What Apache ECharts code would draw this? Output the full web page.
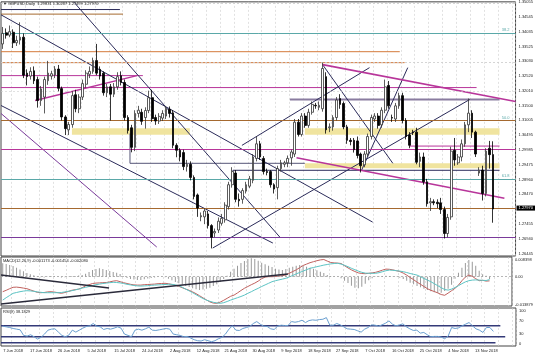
<!DOCTYPE html>
<html><head><meta charset="utf-8">
<script src="https://cdn.jsdelivr.net/npm/echarts@6/dist/echarts.min.js"></script>
<style>html,body{margin:0;padding:0;background:#fff}#c{width:536px;height:357px}</style>
</head><body><div id="c"></div>
<script>
// ---- DATA ----
// daily candles [open, close, low, high], first bar = 4 Jun 2018 (Sunday bars included, Saturdays skipped)
const ohlc = [
[1.3362,1.3398,1.3345,1.3420],[1.3400,1.3392,1.3380,1.3415],[1.3392,1.3404,1.3385,1.3425],[1.3402,1.3366,1.3348,1.3412],
[1.3366,1.3374,1.3355,1.3390],[1.3375,1.3385,1.3360,1.3436],[1.3385,1.3255,1.3245,1.3398],[1.3262,1.3250,1.3220,1.3275],
[1.3252,1.3268,1.3240,1.3282],[1.3270,1.3236,1.3225,1.3285],[1.3240,1.3168,1.3144,1.3250],[1.3168,1.3208,1.3150,1.3218],
[1.3180,1.3240,1.3124,1.3250],[1.3236,1.3262,1.3222,1.3304],[1.3252,1.3260,1.3240,1.3270],[1.3256,1.3276,1.3245,1.3286],
[1.3276,1.3210,1.3200,1.3290],[1.3209,1.3112,1.3100,1.3216],[1.3112,1.3072,1.3050,1.3118],[1.3068,1.3086,1.3050,1.3095],
[1.3086,1.3185,1.3075,1.3200],[1.3188,1.3140,1.3128,1.3205],[1.3140,1.3180,1.3125,1.3190],[1.3180,1.3226,1.3170,1.3240],
[1.3224,1.3262,1.3212,1.3272],[1.3258,1.3268,1.3245,1.3285],[1.3268,1.3305,1.3260,1.3315],[1.3305,1.3262,1.3255,1.3362],
[1.3275,1.3252,1.3240,1.3285],[1.3262,1.3195,1.3185,1.3268],[1.3195,1.3215,1.3180,1.3225],[1.3215,1.3190,1.3100,1.3225],
[1.3190,1.3215,1.3180,1.3228],[1.3215,1.3250,1.3205,1.3265],[1.3253,1.3230,1.3220,1.3268],[1.3230,1.3110,1.3100,1.3240],
[1.3110,1.3066,1.3055,1.3118],[1.3075,1.3008,1.2991,1.3085],[1.3008,1.3124,1.2995,1.3135],[1.3124,1.3135,1.3110,1.3150],
[1.3128,1.3097,1.3085,1.3140],[1.3110,1.3134,1.3072,1.3145],[1.3134,1.3178,1.3125,1.3202],[1.3178,1.3106,1.3095,1.3205],
[1.3110,1.3098,1.3085,1.3120],[1.3098,1.3114,1.3088,1.3125],[1.3108,1.3124,1.3098,1.3135],[1.3115,1.3141,1.3105,1.3150],
[1.3138,1.3124,1.3110,1.3148],[1.3126,1.3015,1.3005,1.3135],[1.3015,1.2998,1.2974,1.3022],[1.2998,1.2975,1.2960,1.3005],
[1.2990,1.2942,1.2930,1.3000],[1.2942,1.2950,1.2925,1.2965],[1.2950,1.2905,1.2895,1.2960],[1.2905,1.2840,1.2830,1.2912],
[1.2845,1.2800,1.2770,1.2850],[1.2770,1.2774,1.2755,1.2785],[1.2770,1.2790,1.2745,1.2800],[1.2780,1.2740,1.2730,1.2790],
[1.2740,1.2700,1.2662,1.2745],[1.2715,1.2720,1.2700,1.2730],[1.2725,1.2755,1.2715,1.2768],[1.2748,1.2765,1.2740,1.2780],
[1.2760,1.2810,1.2750,1.2820],[1.2805,1.2880,1.2795,1.2890],[1.2880,1.2925,1.2870,1.2940],[1.2920,1.2830,1.2820,1.2930],
[1.2830,1.2825,1.2805,1.2850],[1.2830,1.2860,1.2815,1.2868],[1.2858,1.2880,1.2850,1.2890],[1.2875,1.2900,1.2868,1.2910],
[1.2895,1.2975,1.2885,1.2985],[1.2970,1.3020,1.2960,1.3045],[1.3020,1.2975,1.2965,1.3030],[1.2970,1.2925,1.2915,1.2978],
[1.2925,1.2922,1.2912,1.2935],[1.2925,1.2880,1.2870,1.2930],[1.2880,1.2865,1.2850,1.2885],[1.2870,1.2935,1.2830,1.2945],
[1.2935,1.2955,1.2925,1.2965],[1.2950,1.2955,1.2940,1.2962],[1.2955,1.2970,1.2940,1.2980],[1.2972,1.2992,1.2945,1.3000],
[1.2985,1.3094,1.2975,1.3105],[1.3094,1.3052,1.3045,1.3105],[1.3052,1.3115,1.3045,1.3125],[1.3115,1.3083,1.3075,1.3125],
[1.3083,1.3128,1.3075,1.3140],[1.3128,1.3155,1.3120,1.3165],[1.3152,1.3150,1.3140,1.3160],[1.3145,1.3152,1.3135,1.3165],
[1.3140,1.3278,1.3130,1.3298],[1.3250,1.3068,1.3055,1.3265],[1.3075,1.3078,1.3060,1.3090],[1.3078,1.3110,1.3065,1.3118],
[1.3110,1.3170,1.3100,1.3180],[1.3175,1.3155,1.3140,1.3190],[1.3158,1.3078,1.3070,1.3165],[1.3078,1.3032,1.3020,1.3085],
[1.3032,1.3028,1.3015,1.3040],[1.3032,1.3000,1.2990,1.3040],[1.3030,1.2980,1.2970,1.3045],[1.2985,1.2945,1.2922,1.2990],
[1.2948,1.2985,1.2940,1.2995],[1.2985,1.3045,1.2975,1.3055],[1.3045,1.3110,1.3035,1.3120],[1.3105,1.3115,1.3095,1.3125],
[1.3115,1.3083,1.3072,1.3125],[1.3085,1.3135,1.3075,1.3145],[1.3135,1.3215,1.3125,1.3240],[1.3220,1.3150,1.3140,1.3235],
[1.3110,1.3108,1.3095,1.3120],[1.3105,1.3150,1.3095,1.3160],[1.3150,1.3185,1.3140,1.3195],[1.3185,1.3100,1.3090,1.3195],
[1.3100,1.3045,1.3035,1.3108],[1.3050,1.3015,1.3005,1.3060],[1.3060,1.3058,1.3050,1.3068],[1.3060,1.2957,1.2950,1.3075],
[1.2960,1.2975,1.2940,1.2990],[1.2975,1.2890,1.2880,1.2990],[1.2890,1.2815,1.2805,1.2900],[1.2818,1.2822,1.2790,1.2835],
[1.2822,1.2818,1.2810,1.2830],[1.2820,1.2815,1.2800,1.2830],[1.2818,1.2795,1.2780,1.2835],[1.2795,1.2713,1.2696,1.2805],
[1.2713,1.2768,1.2700,1.2780],[1.2770,1.2995,1.2760,1.3010],[1.2998,1.2965,1.2945,1.3040],[1.2955,1.2975,1.2948,1.2985],
[1.2975,1.3020,1.2960,1.3035],[1.3020,1.3085,1.3010,1.3095],[1.3085,1.3125,1.3060,1.3175],[1.3125,1.3060,1.3040,1.3135],
[1.3060,1.2985,1.2975,1.3065],[1.2920,1.2930,1.2910,1.2940],[1.2930,1.2850,1.2826,1.2945],[1.2850,1.2995,1.2840,1.3005],
[1.3005,1.2983,1.2935,1.3030],[1.29831,1.27970,1.27499,1.30287]
];
const macdHist = [
0.0067,0.0063,0.0058,0.0053,0.0045,0.0036,0.0027,0.0018,0.0012,0.0007,0.0002,-0.0003,-0.0004,-0.0002,0.0003,0.0004,
0.0002,-0.0004,-0.0003,0.0001,0.0003,0.0004,0.0006,0.0009,0.0015,0.0024,0.0033,0.0039,0.0042,0.0038,0.0033,0.0028,
0.0024,0.0020,0.0014,0.0004,-0.0006,-0.0012,-0.0014,-0.0016,-0.0017,-0.0013,-0.0009,-0.0006,-0.0004,-0.0002,-0.0001,-0.0003,
-0.0010,-0.0018,-0.0026,-0.0033,-0.0040,-0.0046,-0.0052,-0.0058,-0.0063,-0.0067,-0.0064,-0.0060,-0.0055,-0.0047,-0.0038,-0.0027,
-0.0012,0.0005,0.0025,0.0040,0.0055,0.0068,0.0078,0.0088,0.0092,0.0088,0.0080,0.0070,0.0062,0.0055,0.0048,0.0040,
0.0036,0.0033,0.0038,0.0045,0.0050,0.0055,0.0058,0.0055,0.0050,0.0045,0.0040,0.0032,0.0025,0.0018,0.0008,0.0004,
0.0002,0.0001,-0.0008,-0.0020,-0.0032,-0.0045,-0.0055,-0.0058,-0.0050,-0.0035,-0.0018,-0.0008,-0.0002,0.0002,0.0004,0.0005,
0.0003,0.0001,-0.0002,-0.0005,-0.0012,-0.0020,-0.0030,-0.0038,-0.0046,-0.0053,-0.0060,-0.0067,-0.0073,-0.0078,-0.0082,-0.0080,
-0.0072,-0.0060,-0.0040,-0.0010,0.0020,0.0045,0.0068,0.0083,0.0075,0.0055,0.0030,0.0012,0.0005,-0.001173
];
const macdMain = [
-0.0075,-0.0068,-0.0060,-0.0053,-0.0052,-0.0054,-0.0057,-0.0060,-0.0066,-0.0072,-0.0078,-0.0080,-0.0079,-0.0076,-0.0075,-0.0077,
-0.0080,-0.0083,-0.0079,-0.0074,-0.0068,-0.0065,-0.0062,-0.0055,-0.0046,-0.0040,-0.0034,-0.0032,-0.0031,-0.0030,-0.0029,-0.0026,
-0.0022,-0.0020,-0.0025,-0.0030,-0.0034,-0.0038,-0.0041,-0.0042,-0.0042,-0.0040,-0.0039,-0.0038,-0.0037,-0.0035,-0.0034,-0.0033,
-0.0035,-0.0039,-0.0043,-0.0048,-0.0055,-0.0062,-0.0068,-0.0076,-0.0085,-0.0095,-0.0106,-0.0116,-0.0126,-0.0132,-0.0133,-0.0127,
-0.0118,-0.0108,-0.0098,-0.0092,-0.0081,-0.0069,-0.0058,-0.0049,-0.0040,-0.0032,-0.0022,-0.0010,-0.0002,0.0000,0.0000,0.0001,
0.0003,0.0005,0.0009,0.0017,0.0026,0.0034,0.0045,0.0056,0.0063,0.0070,0.0075,0.0080,0.0084,0.0086,0.0078,0.0071,
0.0069,0.0068,0.0066,0.0055,0.0044,0.0034,0.0026,0.0019,0.0016,0.0015,0.0017,0.0019,0.0022,0.0027,0.0033,0.0038,
0.0037,0.0034,0.0030,0.0026,0.0018,0.0008,-0.0004,-0.0015,-0.0027,-0.0038,-0.0049,-0.0060,-0.0068,-0.0074,-0.0081,-0.0089,
-0.0093,-0.0082,-0.0070,-0.0058,-0.0042,-0.0020,-0.0002,0.0008,0.0002,-0.0010,-0.0020,-0.0018,-0.0022,-0.002080
];
const macdSignal = [
-0.0117,-0.0105,-0.0094,-0.0083,-0.0079,-0.0075,-0.0072,-0.0070,-0.0071,-0.0073,-0.0076,-0.0078,-0.0080,-0.0080,-0.0080,-0.0080,
-0.0080,-0.0079,-0.0076,-0.0073,-0.0070,-0.0066,-0.0062,-0.0057,-0.0053,-0.0049,-0.0044,-0.0040,-0.0037,-0.0034,-0.0032,-0.0030,
-0.0028,-0.0029,-0.0031,-0.0034,-0.0038,-0.0041,-0.0044,-0.0046,-0.0047,-0.0046,-0.0045,-0.0043,-0.0042,-0.0041,-0.0040,-0.0039,
-0.0038,-0.0038,-0.0041,-0.0045,-0.0053,-0.0062,-0.0071,-0.0080,-0.0090,-0.0100,-0.0109,-0.0117,-0.0123,-0.0128,-0.0131,-0.0133,
-0.0130,-0.0124,-0.0117,-0.0111,-0.0105,-0.0099,-0.0092,-0.0083,-0.0075,-0.0066,-0.0058,-0.0049,-0.0041,-0.0033,-0.0025,-0.0020,
-0.0016,-0.0012,-0.0008,-0.0001,0.0006,0.0014,0.0021,0.0028,0.0035,0.0042,0.0046,0.0050,0.0054,0.0058,0.0061,0.0064,
0.0066,0.0067,0.0063,0.0057,0.0050,0.0042,0.0035,0.0028,0.0022,0.0018,0.0017,0.0017,0.0017,0.0020,0.0025,0.0030,
0.0033,0.0032,0.0030,0.0028,0.0025,0.0021,0.0016,0.0012,0.0008,0.0000,-0.0009,-0.0017,-0.0025,-0.0035,-0.0045,-0.0055,
-0.0064,-0.0067,-0.0062,-0.0054,-0.0045,-0.0035,-0.0026,-0.0020,-0.0017,-0.0016,-0.0017,-0.0018,-0.0019,-0.001454
];
const rsi = [
54,52,50,47,45,43,26,24,28,22,15,20,30,42,45,46,36,26,22,27,42,36,42,48,53,55,62,54,52,44,47,45,
48,52,48,30,26,22,42,45,42,46,51,42,41,43,45,47,45,30,28,26,22,23,18,13,10,9,13,10,7,10,
16,20,30,45,55,42,41,47,50,53,62,68,60,54,53,46,44,54,57,56,56,68,66,68,72,65,71,73,72,74,
75,80,57,57,62,58,52,46,45,44,40,36,45,50,58,57,54,58,63,70,60,55,58,61,52,46,41,42,33,35,
28,22,23,23,21,16,24,50,47,49,55,60,65,55,46,42,35,50,50,38.1829
];
const priceTicks = [1.35055,1.34545,1.34035,1.33525,1.33030,1.32520,1.32010,1.31500,1.31005,1.30495,1.29985,1.29475,1.28960,1.28470,1.27455,1.26940,1.26445];
const macdTicks = [0.008398, 0, -0.013879];
const rsiTicks = [100, 70, 30, 0];
const xTickLabels = ['7 Jun 2018','17 Jun 2018','26 Jun 2018','5 Jul 2018','15 Jul 2018','24 Jul 2018','2 Aug 2018','12 Aug 2018','21 Aug 2018','30 Aug 2018','9 Sep 2018','18 Sep 2018','27 Sep 2018','7 Oct 2018','16 Oct 2018','25 Oct 2018','4 Nov 2018','13 Nov 2018'];
// drawn objects, in (bar index, price) coordinates
const fullLevels = [1.34326, 1.31460, 1.31222, 1.30403, 1.28612, 1.27690, 1.27281, 1.26769];
const fibLevelText = ['38.2', '50.0', '', '', '61.8', '', '', ''];
const partialLevels = [ // [price, fromBar, toBar]
  [1.34797,-0.5,33.7],[1.34640,-0.5,34.6],[1.33354,-0.5,114.2],[1.32979,-0.5,115.6],[1.32535,-0.5,40.3],
  [1.32126,-0.5,136.3],[1.31716,82.6,142.9],[1.30123,117.0,142.9],[1.29533,36.6,86.9],[1.29294,66.2,142.9]
];
const zones = [ // [priceTop, priceBottom, fromBar, toBar]
  [1.30737,1.30512,19.9,53.8],[1.30737,1.30512,86.9,142.9],[1.29533,1.29362,86.9,142.9]
];
const trendLines = [ // [bar1, price1, bar2, price2]
  [-0.5,1.34616,106.4,1.27520],[20.4,1.35060,79.7,1.27008],[-0.5,1.31512,77.7,1.26803],[-0.5,1.31239,44.3,1.26667],
  [9.3,1.31682,38.6,1.32535],[68.8,1.30147,105.5,1.32808],[60.4,1.26633,134.3,1.31716],[92.0,1.32911,112.2,1.29533],
  [103.2,1.29294,116.5,1.32808],[92.0,1.32911,147.5,1.31648],[84.5,1.29721,144.3,1.28339],
  [36.6,1.30556,36.6,1.29533],[66.2,1.29294,66.2,1.28885]
];
const macdTrendLines = [[-0.5,0.00085,30.8,-0.00565],[-0.5,-0.01365,82.6,0.00135]];
const rsiLevels = [[55.5,-0.5,143.0],[22.1,-0.5,144.4],[3.9,-0.5,141.6]];

// ---- STYLES ----
const NAVY='#2b2b5a', TEAL='#5aa8a8', ORANGE='#d47a3c', BROWN='#a5692f', MAG='#b8359a', PURP='#7a3a9a', GPURP='#8a7ca0', GRID='#cdcdcd';
const fullLevelColors = [TEAL, TEAL, BROWN, MAG, TEAL, MAG, MAG, PURP];
const partialColors = [NAVY, BROWN, ORANGE, ORANGE, MAG, MAG, GPURP, MAG, '#555577', NAVY];
const partialWidths = [1,1,1,1,1,1,2,1,1,1];
const trendColors = [NAVY,NAVY,NAVY,PURP,MAG,NAVY,NAVY,NAVY,NAVY,MAG,MAG,'#555577',NAVY];
const trendWidths = [1,1,1,1,1.5,1,1,1,1,1.6,1.6,1,1];
const FONT = 'Liberation Sans';
const FS = 4;

// ---- categories (trading days incl. Sundays) ----
const MON = ['Jan','Feb','Mar','Apr','May','Jun','Jul','Aug','Sep','Oct','Nov','Dec'];
const NBARS = ohlc.length + 6;
const categories = [];
let t = Date.UTC(2018, 5, 4);
while (categories.length < NBARS) {
  const d = new Date(t);
  if (d.getUTCDay() !== 6) categories.push(d.getUTCDate() + ' ' + MON[d.getUTCMonth()] + ' ' + d.getUTCFullYear());
  t += 86400000;
}
const last = ohlc[ohlc.length - 1];
const fmt5 = v => v.toFixed(5);
const header = '\u25BC GBPUSD,Daily  ' + fmt5(last[0]) + ' ' + fmt5(last[3]) + ' ' + fmt5(last[2]) + ' ' + fmt5(last[1]);
const macdTitle = 'MACD(12,26,9) ' + macdHist[macdHist.length-1].toFixed(6) + ' ' + macdSignal[macdSignal.length-1].toFixed(6) + ' ' + macdMain[macdMain.length-1].toFixed(6);
const rsiTitle = 'RSI(9) ' + rsi[rsi.length-1].toFixed(4);

// ---- axes ----
const grids = [
  {left:1, right:20, top:1, height:255},
  {left:1, right:20, top:257, height:49},
  {left:1, right:20, top:308, height:38}
].map(g => Object.assign(g, {show:true, borderColor:'#444', borderWidth:1, backgroundColor:'#fff'}));

const xAxes = [];
for (let g = 0; g < 3; g++) {
  xAxes.push({
    type:'category', gridIndex:g, data:categories, boundaryGap:true,
    axisLine:{show:false}, axisTick:{show:false},
    axisLabel: g === 2 ? {show:true, interval:(i, v) => xTickLabels.includes(v), fontSize:FS, fontFamily:FONT, color:'#222', margin:3} : {show:false},
    splitLine:{show:true, interval:(i) => i >= 3 && (i - 3) % 4 === 0, lineStyle:{color:GRID, type:[2,2], width:0.6}}
  });
  xAxes.push({type:'value', gridIndex:g, min:-0.5, max:NBARS - 0.5, show:false});
}
const yAxes = [
  {type:'value', gridIndex:0, position:'right', min:1.2636, max:1.3506, scale:true,
   axisLine:{show:false}, axisTick:{show:false}, splitLine:{show:false},
   axisLabel:{customValues:priceTicks, formatter:v => v.toFixed(5), fontSize:FS, fontFamily:FONT, color:'#222', margin:3}},
  {type:'value', gridIndex:1, position:'right', min:-0.01465, max:0.00985,
   axisLine:{show:false}, axisTick:{show:false}, splitLine:{show:false},
   axisLabel:{customValues:macdTicks, formatter:v => (v === 0 ? '0.00' : v.toFixed(6)), fontSize:FS, fontFamily:FONT, color:'#222', margin:3}},
  {type:'value', gridIndex:2, position:'right', min:-6.06, max:109.1,
   axisLine:{show:false}, axisTick:{show:false}, splitLine:{show:false},
   axisLabel:{customValues:rsiTicks, formatter:v => String(v), fontSize:FS, fontFamily:FONT, color:'#222', margin:3}}
];

// ---- series ----
const series = [];
const seg = (pts, color, width, xi, yi, z) => ({
  type:'line', xAxisIndex:xi, yAxisIndex:yi, data:pts, symbol:'none', silent:true, z:z || 3,
  lineStyle:{color:color, width:width}, animation:false
});

// horizontal dashed grid + zones + full-width levels
series.push({
  type:'line', xAxisIndex:1, yAxisIndex:0, data:[], silent:true, z:1, animation:false,
  markLine:{silent:true, symbol:'none', animation:false, label:{show:false},
    lineStyle:{color:GRID, type:[2,2], width:0.6},
    data: priceTicks.map(v => ({yAxis:v}))},
  markArea:{silent:true, animation:false, itemStyle:{color:'#efe39a', opacity:0.95},
    data: zones.map(z => [{coord:[z[2], z[0]]}, {coord:[z[3], z[1]]}])}
});
series.push({
  type:'line', xAxisIndex:1, yAxisIndex:0, data:[], silent:true, z:3, animation:false,
  markLine:{silent:true, symbol:'none', animation:false,
    data: fullLevels.map((v, k) => ({
      yAxis:v,
      lineStyle:{color:fullLevelColors[k], width:1, type:'solid'},
      label: fibLevelText[k] ? {show:true, position:'insideEndTop', formatter:fibLevelText[k], color:TEAL, fontSize:FS, fontFamily:FONT, distance:[6, 1]} : {show:false}
    }))}
});
partialLevels.forEach((p, k) => series.push(seg([[p[1], p[0]], [p[2], p[0]]], partialColors[k], partialWidths[k], 1, 0)));
trendLines.forEach((l, k) => series.push(seg([[l[0], l[1]], [l[2], l[3]]], trendColors[k], trendWidths[k], 1, 0)));

series.push({
  type:'candlestick', xAxisIndex:0, yAxisIndex:0, data:ohlc, barWidth:2.2, z:5, animation:false, silent:true,
  itemStyle:{color:'#ffffff', color0:'#000000', borderColor:'#333333', borderColor0:'#000000', borderWidth:0.8},
  markLine:{silent:true, symbol:'none', animation:false,
    data:[{yAxis:last[1]}],
    lineStyle:{color:BROWN, width:1, type:'solid'},
    label:{show:true, position:'end', formatter:fmt5(last[1]), color:'#fff', backgroundColor:'#000', fontSize:FS, fontFamily:FONT, padding:[1,2,0,2], distance:1}}
});

// MACD
series.push({type:'bar', xAxisIndex:2, yAxisIndex:1, data:macdHist, barWidth:1, silent:true, animation:false,
  itemStyle:{color:'#9a9a9a'},
  markLine:{silent:true, symbol:'none', animation:false, label:{show:false}, lineStyle:{color:'#999', type:[2,2], width:0.7}, data:[{yAxis:0}]}});
series.push({type:'line', xAxisIndex:2, yAxisIndex:1, data:macdMain, symbol:'none', silent:true, animation:false, lineStyle:{color:'#c0615e', width:1}, z:4});
series.push({type:'line', xAxisIndex:2, yAxisIndex:1, data:macdSignal, symbol:'none', silent:true, animation:false, lineStyle:{color:'#5cc4c4', width:1}, z:4});
macdTrendLines.forEach(l => series.push(seg([[l[0], l[1]], [l[2], l[3]]], '#2a2a3a', 1.3, 3, 1, 5)));

// RSI
rsiLevels.forEach(l => series.push(seg([[l[1], l[0]], [l[2], l[0]]], '#343a78', 1.4, 5, 2)));
series.push({type:'line', xAxisIndex:4, yAxisIndex:2, data:rsi, symbol:'none', silent:true, animation:false, lineStyle:{color:'#6a9fd0', width:1}, z:4});

const titleStyle = {fontSize:FS, fontWeight:'normal', color:'#222', fontFamily:FONT};
const chart = echarts.init(document.getElementById('c'), null, {renderer:'canvas'});
chart.setOption({
  backgroundColor:'#ffffff',
  animation:false,
  title:[
    {text:header, left:3, top:2, padding:0, textStyle:titleStyle},
    {text:macdTitle, left:3, top:259, padding:0, textStyle:titleStyle},
    {text:rsiTitle, left:3, top:310, padding:0, textStyle:titleStyle}
  ],
  grid:grids,
  xAxis:xAxes,
  yAxis:yAxes,
  series:series
});
</script>
</body></html>
